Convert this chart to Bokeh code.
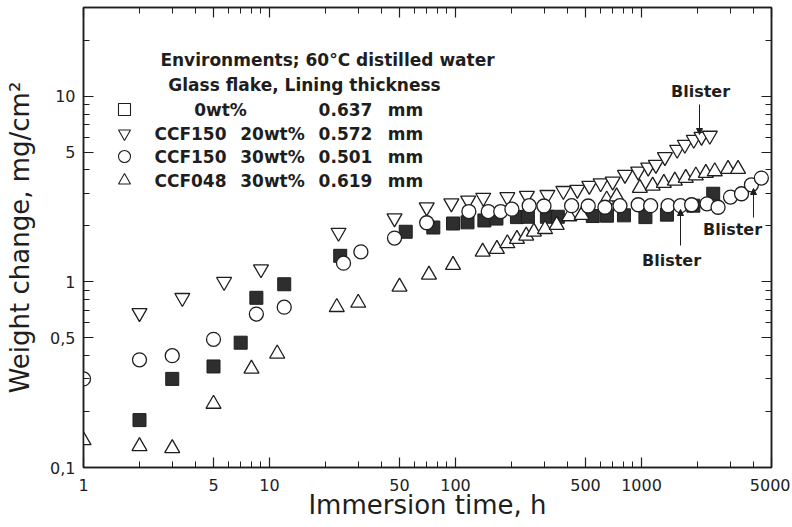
import math
from bokeh.plotting import figure
from bokeh.models import FixedTicker, LogAxis, Label, Arrow, NormalHead, Range1d
from bokeh.embed import file_html
from bokeh.resources import INLINE

# ---------------- data ----------------
sq_x = [2, 3, 5, 7, 8.5, 12, 24, 54, 76, 97, 116, 143, 166, 214, 245, 310, 355,
        547, 652, 805, 1050, 1370, 1900, 2430]
sq_y = [0.18, 0.30, 0.35, 0.47, 0.82, 0.97, 1.38, 1.86, 1.96, 2.06, 2.09, 2.14, 2.19,
        2.23, 2.24, 2.24, 2.24, 2.26, 2.27, 2.28, 2.23, 2.30, 2.57, 2.98]

inv_x = [2, 3.4, 5.7, 9, 23.5, 47, 70, 95, 117, 141, 190, 242, 312, 380, 452, 524,
         603, 700, 815, 960, 1087, 1195, 1336, 1555, 1710, 1910, 2103, 2330]
inv_y = [0.68, 0.82, 1.0, 1.17, 1.84, 2.2, 2.52, 2.65, 2.74, 2.84, 2.86, 2.91, 2.94,
         3.09, 3.13, 3.29, 3.40, 3.47, 3.77, 3.93, 4.13, 4.27, 4.70, 5.15, 5.48,
         5.83, 6.04, 6.13]

cir_x = [1, 2, 3, 5, 8.5, 12, 25, 31, 47, 70, 118, 150, 175, 201, 249, 299, 421,
         517, 636, 766, 960, 1120, 1390, 1620, 1860, 2250, 2580, 3010, 3450, 3900, 4410]
cir_y = [0.30, 0.38, 0.40, 0.49, 0.67, 0.73, 1.26, 1.45, 1.72, 2.08, 2.39, 2.39, 2.39,
         2.46, 2.57, 2.56, 2.57, 2.56, 2.52, 2.57, 2.60, 2.57, 2.57, 2.57, 2.60, 2.63,
         2.52, 2.86, 2.98, 3.33, 3.62]

tri_x = [1, 2, 3, 5, 8, 11, 23, 30, 50, 72, 97, 140, 167, 190, 214, 240, 264, 303,
         350, 409, 477, 650, 735, 980, 1148, 1319, 1511, 1730, 1960, 2218, 2477,
         2920, 3305]
tri_y = [0.14, 0.13, 0.127, 0.22, 0.34, 0.41, 0.73, 0.77, 0.94, 1.09, 1.23, 1.45,
         1.50, 1.61, 1.70, 1.77, 1.86, 1.92, 2.02, 2.25, 2.29, 2.77, 2.88, 3.2, 3.29,
         3.40, 3.50, 3.62, 3.73, 3.85, 3.93, 4.05, 4.05]

x_major = [1, 5, 10, 50, 100, 500, 1000, 5000]
x_labels = ["1", "5", "10", "50", "100", "500", "1000", "5000"]
x_minor = [2, 3, 4, 6, 7, 8, 9, 20, 30, 40, 60, 70, 80, 90, 200, 300, 400, 600, 700,
           800, 900, 2000, 3000, 4000]
y_major = [0.1, 0.5, 1, 5, 10]
y_labels = ["0,1", "0,5", "1", "5", "10"]
y_minor = [0.2, 0.3, 0.4, 0.6, 0.7, 0.8, 0.9, 2, 3, 4, 6, 7, 8, 9, 20, 30]

legend_markers = ["square", "inverted_triangle", "circle", "triangle"]
legend_names = ["", "CCF150", "CCF150", "CCF048"]
legend_wt = ["0wt%", "20wt%", "30wt%", "30wt%"]
legend_thick = ["0.637", "0.572", "0.501", "0.619"]

X_START, X_END = 1, 5000
Y_START, Y_END = 0.1, 30

# ---------------- layout ----------------
W, H = 790, 525
LEFT, RIGHT, TOP, BOTTOM = 83, 19, 7, 58
FONT = "DejaVu Sans"
INK = "#1e1e1e"

p = figure(width=W, height=H, x_axis_type="log", y_axis_type="log",
           x_range=Range1d(X_START, X_END), y_range=Range1d(Y_START, Y_END),
           output_backend="svg", toolbar_location=None,
           min_border_left=LEFT, min_border_right=RIGHT,
           min_border_top=TOP, min_border_bottom=BOTTOM)
p.xgrid.visible = False
p.ygrid.visible = False
p.outline_line_color = INK
p.outline_line_width = 1.5
p.background_fill_color = "white"
p.border_fill_color = "white"


def style_axis(ax, show_labels=True):
    ax.axis_line_color = INK
    ax.axis_line_width = 1.5
    ax.major_tick_line_color = INK
    ax.minor_tick_line_color = INK
    ax.major_tick_line_width = 1.2
    ax.minor_tick_line_width = 1.0
    ax.major_tick_in = 10
    ax.major_tick_out = 0
    ax.minor_tick_in = 6
    ax.minor_tick_out = 0
    if show_labels:
        ax.major_label_text_font = FONT
        ax.major_label_text_font_size = "16px"
        ax.major_label_text_color = INK
    else:
        ax.major_label_text_font_size = "0px"
        ax.major_label_standoff = 0


xt = FixedTicker(ticks=x_major, minor_ticks=x_minor)
yt = FixedTicker(ticks=y_major, minor_ticks=y_minor)

xa = p.xaxis[0]
xa.ticker = xt
xa.major_label_overrides = dict(zip(x_major, x_labels))
style_axis(xa)
xa.major_label_standoff = 11
xa.axis_label = "Immersion time, h"
xa.axis_label_text_font = FONT
xa.axis_label_text_font_style = "normal"
xa.axis_label_text_font_size = "26px"
xa.axis_label_text_color = INK
xa.axis_label_standoff = -4

ya = p.yaxis[0]
ya.ticker = yt
ya.major_label_overrides = dict(zip(y_major, y_labels))
style_axis(ya)
ya.major_label_standoff = 8
ya.axis_label = "Weight change, mg/cm\u00b2"
ya.axis_label_text_font = FONT
ya.axis_label_text_font_style = "normal"
ya.axis_label_text_font_size = "26px"
ya.axis_label_text_color = INK
ya.axis_label_standoff = 12

top_ax = LogAxis(ticker=FixedTicker(ticks=x_major, minor_ticks=x_minor))
style_axis(top_ax, show_labels=False)
p.add_layout(top_ax, "above")
right_ax = LogAxis(ticker=FixedTicker(ticks=y_major, minor_ticks=y_minor))
style_axis(right_ax, show_labels=False)
p.add_layout(right_ax, "right")

# ---------------- data marks ----------------
p.scatter(sq_x, sq_y, marker="square", size=13, fill_color="#2e2e2e",
          line_color=INK, line_width=1)
p.scatter(tri_x, tri_y, marker="triangle", size=15, fill_color="white",
          line_color=INK, line_width=1.3)
p.scatter(inv_x, inv_y, marker="inverted_triangle", size=15, fill_color="white",
          line_color=INK, line_width=1.3)
p.scatter(cir_x, cir_y, marker="circle", size=14, fill_color="white",
          line_color=INK, line_width=1.3)

# ---------------- annotations (placed by page pixel position) ----------------
FL, FR, FT, FB = LEFT, W - RIGHT, TOP, H - BOTTOM


def at(px, py):
    fx = (px - FL) / (FR - FL)
    fy = (FB - py) / (FB - FT)
    x = 10 ** (math.log10(X_START) + fx * (math.log10(X_END) - math.log10(X_START)))
    y = 10 ** (math.log10(Y_START) + fy * (math.log10(Y_END) - math.log10(Y_START)))
    return x, y


def label(text, px, py, align="left", size="17px", bold=True):
    x, y = at(px, py)
    p.add_layout(Label(x=x, y=y, text=text, text_align=align,
                       text_baseline="middle", text_font=FONT,
                       text_font_size=size, text_color=INK,
                       text_font_style="bold" if bold else "normal"))


label("Environments; 60\u00b0C distilled water", 327, 59, align="center")
label("Glass flake, Lining thickness", 304, 84, align="center")
row_y = [109, 133, 156, 180]
key_x, key_y = [], []
for mk, name, wt, th, ry in zip(legend_markers, legend_names, legend_wt,
                                legend_thick, row_y):
    kx, ky = at(124, ry)
    p.scatter([kx], [ky], marker=mk, size=12, fill_color="white",
              line_color=INK, line_width=1.1)
    if name:
        label(name, 190, ry, align="center")
        label(wt, 272, ry, align="center")
    else:
        label(wt, 220, ry, align="center")
    label(th, 345, ry, align="center")
    label("mm", 405, ry, align="center")

label("Blister", 700, 91, align="center", size="16px")
label("Blister", 671, 260, align="center", size="16px")
label("Blister", 732, 229, align="center", size="16px")


def arrow(px0, py0, px1, py1):
    x0, y0 = at(px0, py0)
    x1, y1 = at(px1, py1)
    p.add_layout(Arrow(x_start=x0, y_start=y0, x_end=x1, y_end=y1,
                       line_color=INK, line_width=1,
                       end=NormalHead(size=6, fill_color=INK, line_color=INK)))


arrow(699, 104, 699, 134)
arrow(680, 245, 680, 209)
arrow(753, 217, 753, 188)

open("out.html", "w").write(file_html(p, INLINE))
